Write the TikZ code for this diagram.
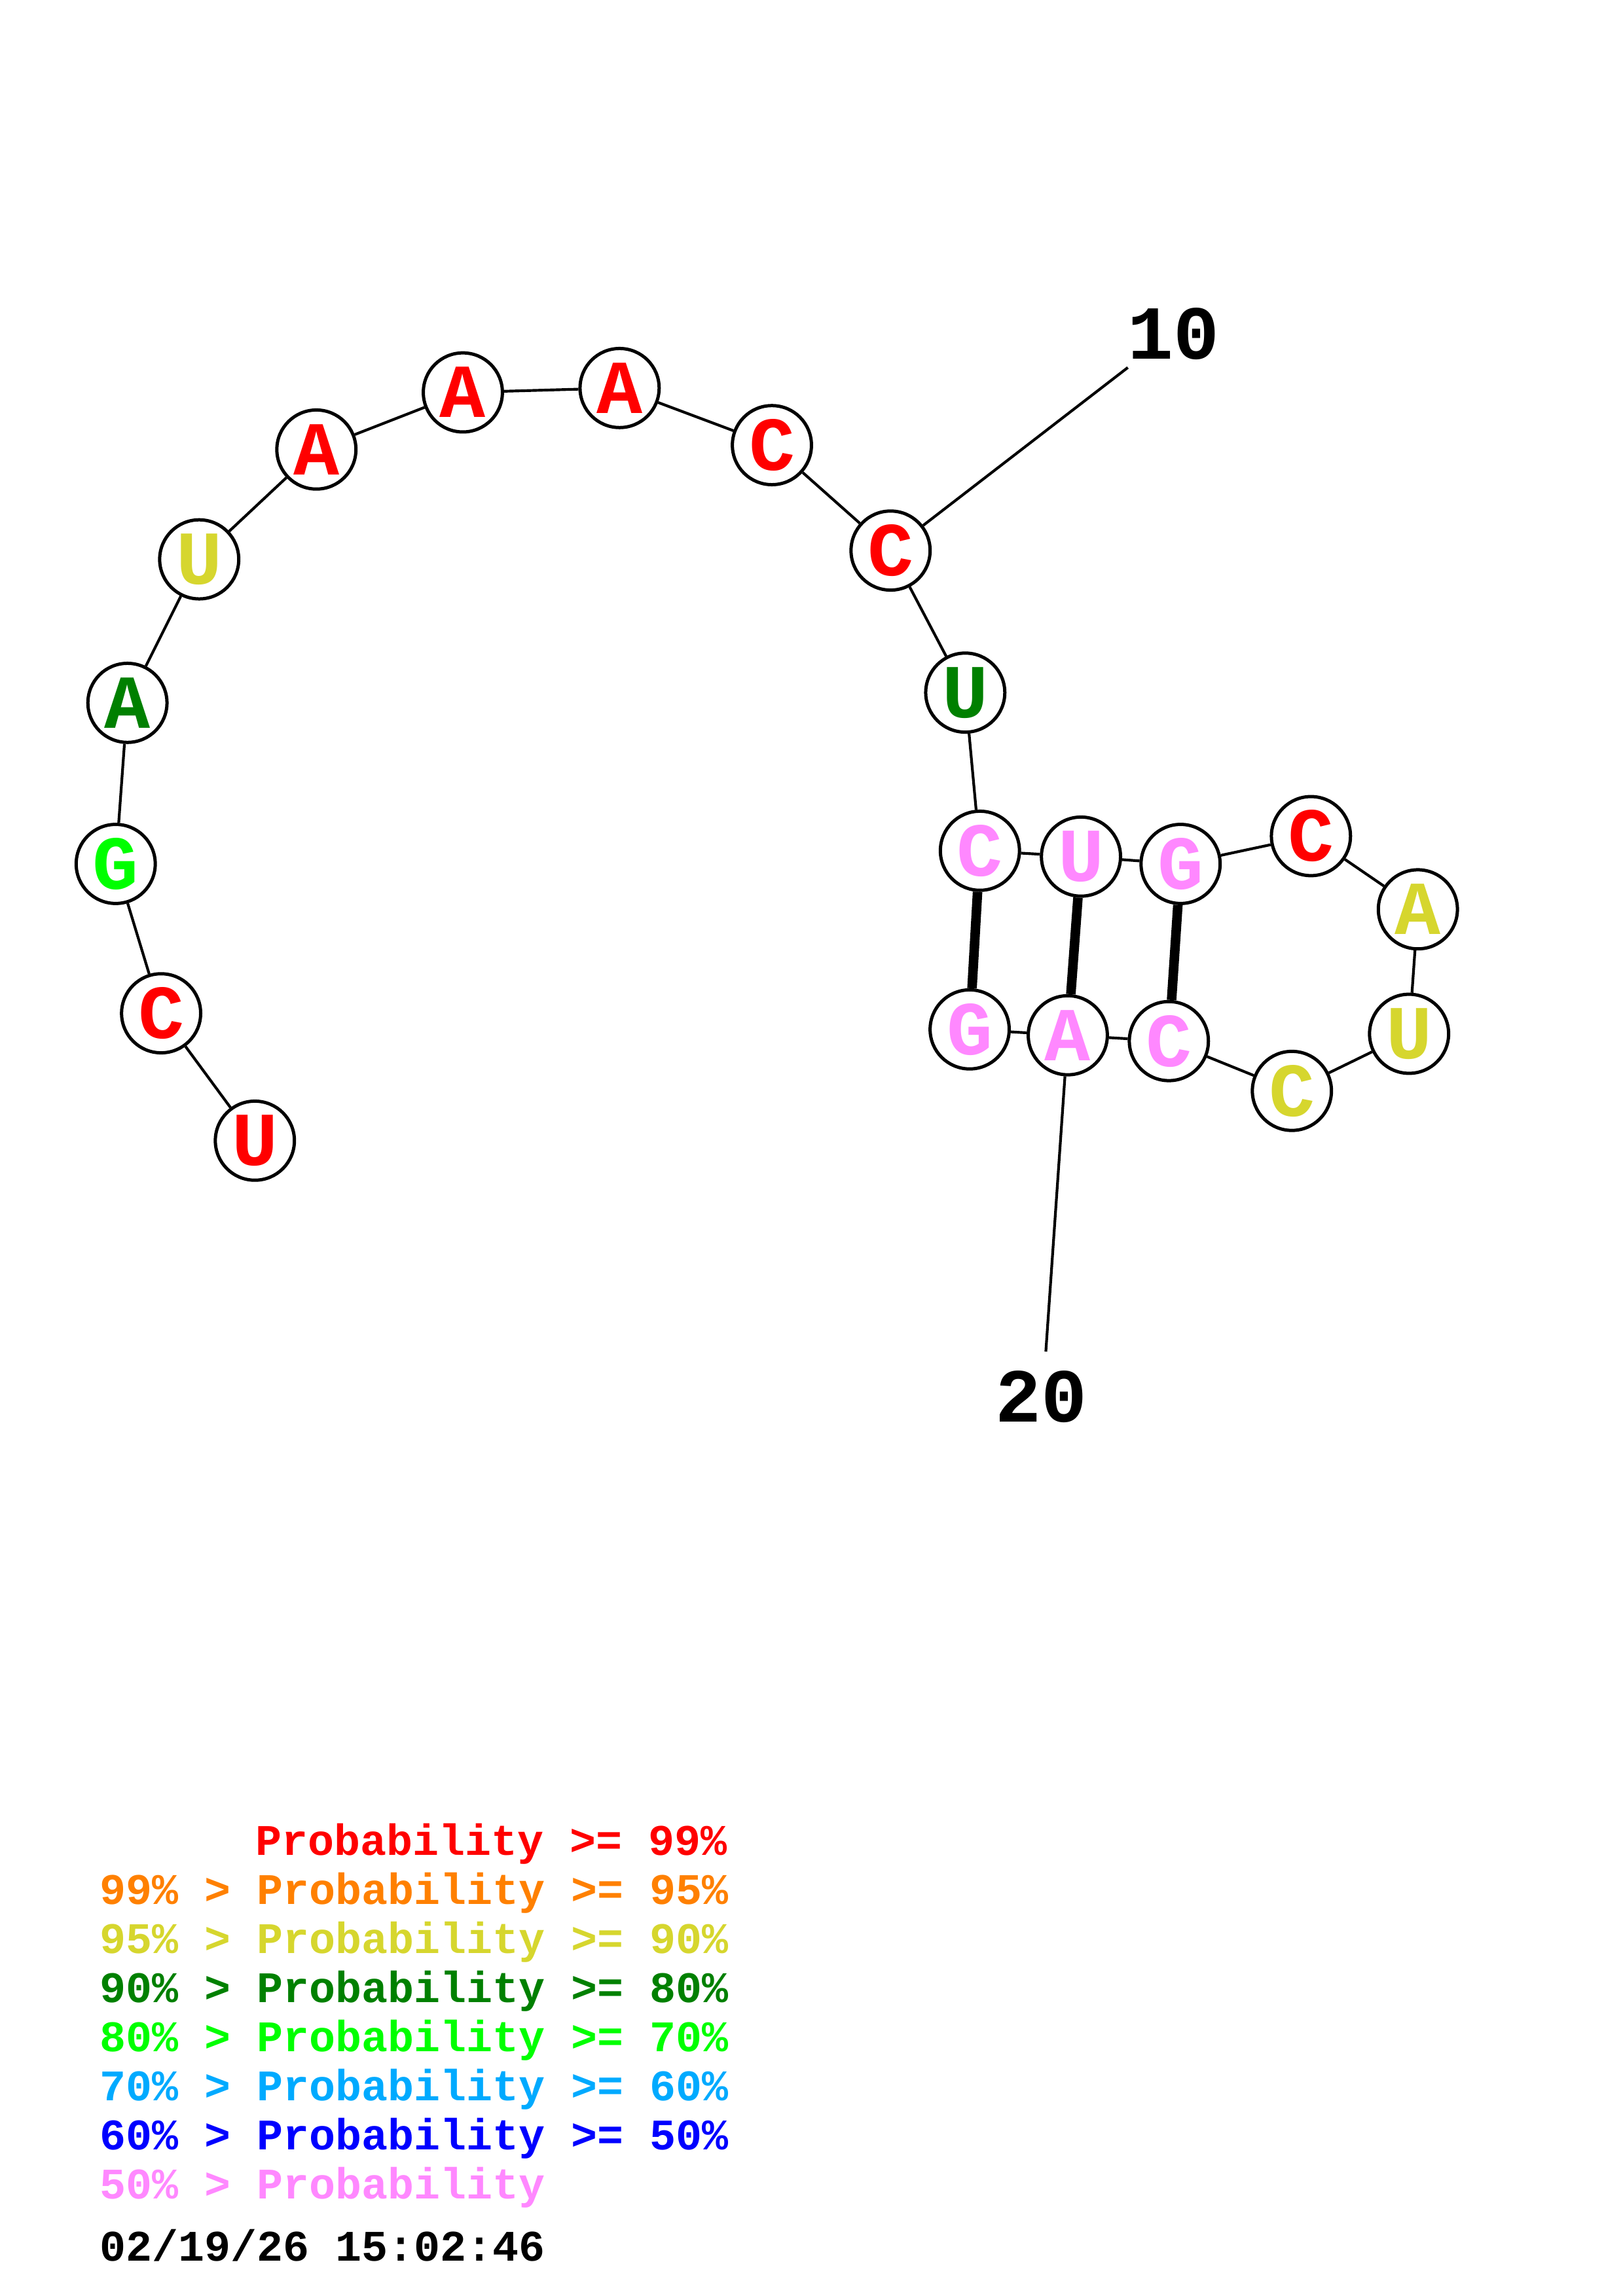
\documentclass[tikz,border=0pt]{standalone}
\usepackage{fontspec}
\usepackage{xcolor}
\usepackage{tikz}
\newfontfamily\rnafont{Liberation Mono}

\definecolor{pred}{HTML}{FF0000}
\definecolor{porange}{HTML}{FF8000}
\definecolor{pyellow}{HTML}{D6D62E}
\definecolor{pdkgreen}{HTML}{008000}
\definecolor{pgreen}{HTML}{00FF00}
\definecolor{psky}{HTML}{00AAFF}
\definecolor{pblue}{HTML}{0000FF}
\definecolor{ppink}{HTML}{FF88FF}

\begin{document}
\begin{tikzpicture}[x=0.537pt, y=-0.537pt,
        base/.style={
                circle,
                draw,
                fill=white,
                line width=1.2pt,
                minimum size=29pt,
                inner sep=0pt,
                font=\rnafont\bfseries\fontsize{28}{28}\selectfont,
        },
        backbone/.style={line width=1pt},
        pair/.style={line width=3.5pt},
        tick/.style={font=\rnafont\bfseries\fontsize{28}{28}\selectfont},
        legend/.style={anchor=base west, inner sep=0pt, font=\rnafont\bfseries\fontsize{16}{16}\selectfont},
        ]
            \useasboundingbox (0, 0) rectangle (1108, 1568);
            % nucleotides
            \node[base, text=pred] (n1) at (174, 779) {U};
            \node[base, text=pred] (n2) at (110, 692) {C};
            \node[base, text=pgreen] (n3) at (79, 590) {G};
            \node[base, text=pdkgreen] (n4) at (87, 480) {A};
            \node[base, text=pyellow] (n5) at (136, 382) {U};
            \node[base, text=pred] (n6) at (216, 307) {A};
            \node[base, text=pred] (n7) at (316, 268) {A};
            \node[base, text=pred] (n8) at (423, 265) {A};
            \node[base, text=pred] (n9) at (527, 304) {C};
            \node[base, text=pred] (n10) at (608, 376) {C};
            \node[base, text=pdkgreen] (n11) at (659, 473) {U};
            \node[base, text=ppink] (n12) at (669, 581) {C};
            \node[base, text=ppink] (n13) at (738, 585) {U};
            \node[base, text=ppink] (n14) at (806, 590) {G};
            \node[base, text=pred] (n15) at (895, 571) {C};
            \node[base, text=pyellow] (n16) at (968, 621) {A};
            \node[base, text=pyellow] (n17) at (962, 706) {U};
            \node[base, text=pyellow] (n18) at (882, 745) {C};
            \node[base, text=ppink] (n19) at (798, 711) {C};
            \node[base, text=ppink] (n20) at (729, 707) {A};
            \node[base, text=ppink] (n21) at (662, 703) {G};

            % backbone
            \draw[backbone] (n1) -- (n2) -- (n3) -- (n4) -- (n5) -- (n6) -- (n7);
            \draw[backbone] (n7) -- (n8) -- (n9) -- (n10) -- (n11) -- (n12) -- (n13);
            \draw[backbone] (n13) -- (n14) -- (n15) -- (n16) -- (n17) -- (n18) -- (n19);
            \draw[backbone] (n19) -- (n20) -- (n21);

            % pairs
            \draw[pair] (n12) -- (n21);
            \draw[pair] (n13) -- (n20);
            \draw[pair] (n14) -- (n19);

            % numbering
            \coordinate (t10) at (770, 251);
            \coordinate (t20) at (714, 923);
            \draw[backbone] (n10) -- (t10);
            \draw[backbone] (n20) -- (t20);
            \node[tick] (l10) at (801, 228) {10};
            \node[tick] (l20) at (711, 954) {20};

            % legend
            \node[legend, text=pred] (k1) at (174, 1267) {Probability >= 99\%};
            \node[legend, text=porange] (k2) at (68, 1300.5) {99\% > Probability >= 95\%};
            \node[legend, text=pyellow] (k3) at (68, 1334) {95\% > Probability >= 90\%};
            \node[legend, text=pdkgreen] (k4) at (68, 1367.5) {90\% > Probability >= 80\%};
            \node[legend, text=pgreen] (k5) at (68, 1401) {80\% > Probability >= 70\%};
            \node[legend, text=psky] (k6) at (68, 1434.5) {70\% > Probability >= 60\%};
            \node[legend, text=pblue] (k7) at (68, 1468) {60\% > Probability >= 50\%};
            \node[legend, text=ppink] (k8) at (68, 1501.5) {50\% > Probability};
            \node[legend] (date) at (68, 1544) {02/19/26 15:02:46};
        \end{tikzpicture}
\end{document}
